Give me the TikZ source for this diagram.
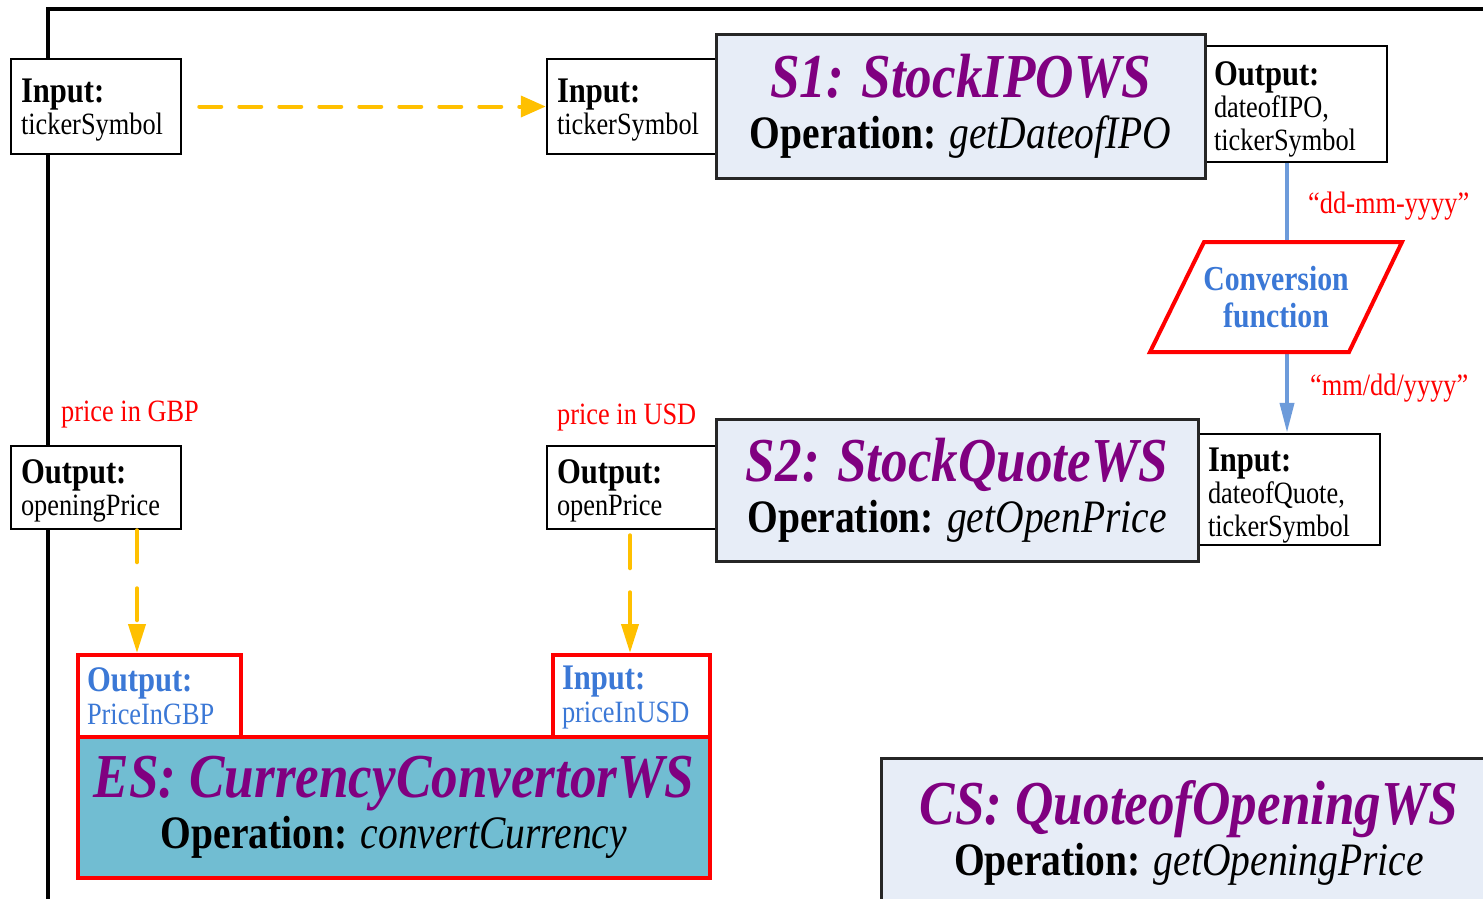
\documentclass[tikz,border=0pt]{standalone}
\usepackage{fontspec}
\setmainfont{Liberation Serif}[FakeStretch=0.85]
\usetikzlibrary{arrows.meta}

\definecolor{wspurple}{HTML}{800080}
\definecolor{wsfill}{HTML}{E7EDF7}
\definecolor{esfill}{HTML}{71BDD2}
\definecolor{flowyellow}{HTML}{FFC000}
\definecolor{flowblue}{HTML}{6D9BDA}
\definecolor{convblue}{HTML}{3B78D6}
\definecolor{notered}{HTML}{FF0000}

% service title and operation line
\newcommand\wsname[1]{{\fontsize{62.5}{62.5}\selectfont\bfseries\itshape\color{wspurple}#1}}
\newcommand\wsop[1]{\textbf{Operation:} \textit{#1}}
% port heading; the strut sets how far the text block sits down in its box
\newcommand\phead[2]{\rule{0pt}{#1}{\fontsize{36}{32.5}\selectfont\bfseries #2}}

\tikzset{
  port/.style={draw=black, line width=2.5pt, fill=white, align=left,
    inner xsep=0pt, inner ysep=0pt, font=\fontsize{31}{32.5}\selectfont},
  esport/.style={port, draw=notered, line width=4pt, text=convblue},
  svc/.style={draw=black!85, line width=3pt, fill=wsfill, align=center,
    inner sep=0pt, font=\fontsize{46.5}{51}\selectfont},
  note/.style={text=notered, anchor=base west, inner sep=0pt,
    font=\fontsize{31}{33}\selectfont},
  ylink/.style={draw=flowyellow, line width=4pt, line cap=round},
  blink/.style={draw=flowblue, line width=4pt},
}

\begin{document}
\begin{tikzpicture}[x=1pt, y=-1pt]
\useasboundingbox (0,0) rectangle (1483,898);
\clip (0,0) rectangle (1483,898);

% outer frame of the composite service
\draw[line width=4pt, line join=miter] (48,1000) -- (48,9) -- (1600,9);

% ports of S1
\node[port, minimum width=170pt, minimum height=95pt, text width=150pt] (inA) at (96,106.5)
  {\phead{31pt}{Input:}\\tickerSymbol};
\node[port, minimum width=169pt, minimum height=95pt, text width=149pt] (inB) at (631.5,106.5)
  {\phead{31pt}{Input:}\\tickerSymbol};
\node[port, minimum width=182pt, minimum height=116pt, text width=164pt] (s1out) at (1296,104)
  {\phead{34pt}{Output:}\\dateofIPO,\\tickerSymbol};

% S1 service
\node[svc, minimum width=489pt, minimum height=144pt] (s1) at (960.5,106)
  {\wsname{S1: StockIPOWS}\\\wsop{getDateofIPO}};

% ports of S2
\node[port, minimum width=182pt, minimum height=111pt, text width=162pt] (s2in) at (1289,489.5)
  {\phead{35pt}{Input:}\\dateofQuote,\\tickerSymbol};
\node[port, minimum width=169pt, minimum height=83pt, text width=149pt] (outUSD) at (631.5,487.5)
  {\phead{31pt}{Output:}\\openPrice};
\node[port, minimum width=170pt, minimum height=83pt, text width=150pt] (outGBP) at (96,487.5)
  {\phead{31pt}{Output:}\\openingPrice};

% S2 service
\node[svc, minimum width=482pt, minimum height=142pt] (s2) at (957,490)
  {\wsname{S2: StockQuoteWS}\\\wsop{getOpenPrice}};

% external currency service and its ports
\node[esport, minimum width=163pt, minimum height=82pt, text width=145pt] (esOut) at (159.5,696)
  {\phead{21pt}{Output:}\\PriceInGBP};
\node[esport, minimum width=157pt, minimum height=82pt, text width=139pt] (esIn) at (631.5,696)
  {\phead{27pt}{Input:}\\priceInUSD};
\node[svc, draw=notered, line width=4pt, fill=esfill, minimum width=632pt, minimum height=141pt] (es) at (394,807.5)
  {\wsname{ES: CurrencyConvertorWS}\\\wsop{convertCurrency}};

% composite service box
\node[svc, minimum width=700pt, minimum height=260pt, anchor=north west] (cs) at (880,757) {};
\node[align=center, inner sep=0pt, font=\fontsize{46.5}{51}\selectfont] (csText) at (1189,833)
  {\wsname{CS: QuoteofOpeningWS}\\\wsop{getOpeningPrice}};

% date conversion step
\coordinate (convTop) at (1287,242);
\coordinate (convBot) at (1287,352);
\draw[blink] (convTop |- s1out.south) -- (convTop);
\draw[blink, -{Triangle[length=30pt,width=14pt]}] (convBot) -- (convBot |- s2in.north);
\draw[notered, line width=4pt, fill=white, line join=miter]
  (1204,242) -- (1402,242) -- (1349,352) -- (1150,352) -- cycle;
\node[align=center, inner sep=0pt, text=convblue, font=\fontsize{35}{37}\selectfont\bfseries] (conv) at (1276,297)
  {Conversion\\function};

% data flows
\draw[ylink, dash pattern=on 22pt off 18pt, shorten <=17pt,
  -{Triangle[length=25pt,width=21pt]}] (inA.east) -- (inB.west);
\coordinate (gbpTap) at (137,0);
\coordinate (usdTap) at (630,0);
\draw[ylink, dash pattern=on 32pt off 26pt, -{Triangle[length=29pt,width=17pt]}]
  (gbpTap |- outGBP.south) -- (gbpTap |- esOut.north);
\draw[ylink, dash pattern=on 33pt off 24pt, shorten <=5pt, -{Triangle[length=29pt,width=17pt]}]
  (usdTap |- outUSD.south) -- (usdTap |- esIn.north);

% annotations
\node[note] (fmtA) at (1308,213) {“dd-mm-yyyy”};
\node[note] (fmtB) at (1310,395) {“mm/dd/yyyy”};
\node[note] (gbp) at (61,421) {price in GBP};
\node[note] (usd) at (557,424) {price in USD};
\end{tikzpicture}
\end{document}
